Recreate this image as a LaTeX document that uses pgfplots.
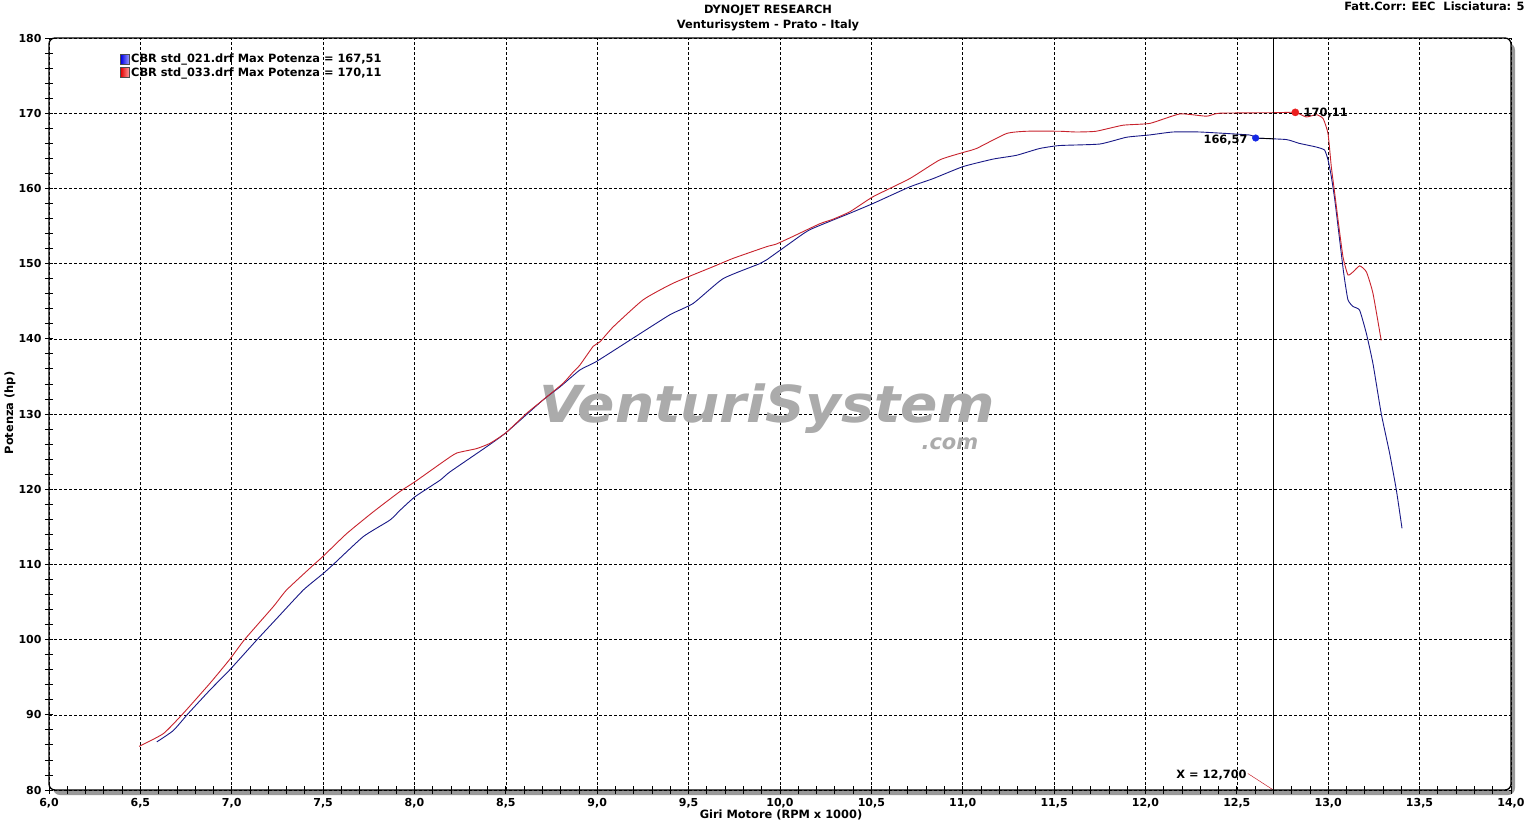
\documentclass[border=0pt]{standalone}
\usepackage{pgfplots}
\pgfplotsset{compat=1.18}
\usepackage{fontspec}
\setmainfont{DejaVu Sans}
\definecolor{redc}{RGB}{200,35,45}
\definecolor{bluec}{RGB}{25,25,135}
\definecolor{reddot}{RGB}{235,30,30}
\definecolor{bluedot}{RGB}{20,40,230}
\newcommand{\lab}{\bfseries\fontsize{11}{12}\selectfont}
\newcommand{\txt}{\bfseries\fontsize{11.4}{14}\selectfont}
\begin{document}
\begin{tikzpicture}[x=1pt,y=1pt]
\useasboundingbox (-49,-33) rectangle (1490,790);
\fill[black!40, rounded corners=7pt] (4,-5) rectangle (1466,747);
\begin{axis}[at={(0,0)}, anchor=south west, scale only axis,
  width=1462pt, height=752pt,
  xmin=6, xmax=14, ymin=80, ymax=180,
  xtick distance=0.5, ytick distance=10,
  minor x tick num=4, minor y tick num=4,
  grid=major,
  major grid style={black, line width=0.6pt, dash pattern=on 3pt off 2pt},
  axis line style={draw=none},
  axis background/.style={fill=white},
  tick pos=left, tick align=center,
  major tick length=8pt, minor tick length=8pt,
  tick style={black, line width=0.8pt},
  /pgf/number format/assume math mode=true,
  xticklabel style={/pgf/number format/.cd, fixed, fixed zerofill, precision=1, use comma, /tikz/.cd, font=\lab, yshift=-1pt},
  yticklabel style={/pgf/number format/.cd, fixed, precision=0, /tikz/.cd, font=\lab},
  legend style={at={(axis description cs:0.0486,0.980)}, anchor=north west,
    draw=none, fill=none, inner sep=0pt, font=\txt, row sep=1pt,
    nodes={inner sep=1pt}},
  legend cell align=left,
]
\node[font=\bfseries\itshape\fontsize{51}{51}\selectfont, text=black!33, xscale=1.08, inner sep=0pt, text depth=0pt] at (axis cs:9.93,131.4) {VenturiSystem};
\node[font=\bfseries\itshape\fontsize{21}{21}\selectfont, text=black!33, inner sep=0pt] at (axis cs:10.93,126.0) {.com};

\addplot[color=bluec, line width=0.9pt, smooth, tension=0.3,
  legend image code/.code={\shade[left color=blue!90!black, right color=blue!35, draw=black!70] (0pt,-5pt) rectangle (9pt,5pt);}]
coordinates {
(6.59,86.4) (6.68,87.9) (6.763,90.2) (6.881,93.3) (6.99,96.0) (7.137,99.95)
(7.246,102.8) (7.392,106.6) (7.501,108.8) (7.556,110.0) (7.72,113.7) (7.866,115.9)
(7.921,117.2) (8.003,119.0) (8.14,121.2) (8.194,122.3) (8.395,125.65) (8.50,127.5)
(8.705,131.9) (8.796,133.6) (8.905,135.85) (8.997,137.0) (9.197,140.1) (9.398,143.2)
(9.525,144.7) (9.689,148.0) (9.89,150.0) (9.927,150.5) (10.054,152.7) (10.163,154.5)
(10.383,156.7) (10.51,158.0) (10.71,160.2) (10.838,161.3) (11.002,162.9) (11.167,163.9)
(11.294,164.4) (11.42,165.3) (11.53,165.7) (11.75,165.9) (11.896,166.8) (12.02,167.1)
(12.15,167.5) (12.297,167.5) (12.57,167.1) (12.603,166.7) (12.77,166.5) (12.84,166.0)
(12.935,165.5) (12.98,165.1) (12.999,163.8) (13.017,161.6) (13.036,158.5) (13.063,153.1)
(13.085,148.7) (13.108,145.2) (13.136,144.3) (13.172,143.8) (13.209,140.7) (13.245,136.7)
(13.29,130.1) (13.336,124.8) (13.373,119.9) (13.404,114.8)
};
\addlegendentry{CBR std\_021.drf Max Potenza = 167,51}

\addplot[color=redc, line width=0.9pt, smooth, tension=0.3,
  legend image code/.code={\shade[left color=red!90!black, right color=red!35, draw=black!70] (0pt,-5pt) rectangle (9pt,5pt);}]
coordinates {
(6.493,85.8) (6.626,87.5) (6.735,90.2) (6.881,94.2) (6.99,97.4) (7.07,100.0)
(7.228,104.4) (7.30,106.6) (7.446,109.9) (7.501,111.1) (7.629,114.1) (7.775,117.0)
(7.921,119.7) (8.003,121.0) (8.157,123.65) (8.23,124.8) (8.34,125.4) (8.413,126.1)
(8.50,127.5) (8.614,130.1) (8.705,131.9) (8.814,134.1) (8.869,135.6) (8.905,136.5)
(8.978,139.0) (9.015,139.6) (9.088,141.6) (9.252,145.2) (9.416,147.4) (9.635,149.6)
(9.744,150.7) (9.927,152.25) (9.98,152.6) (10.07,153.6) (10.218,155.3) (10.29,155.9)
(10.383,156.9) (10.51,158.9) (10.71,161.3) (10.875,163.8) (11.02,164.9) (11.075,165.3)
(11.24,167.3) (11.35,167.6) (11.53,167.6) (11.62,167.5) (11.73,167.6) (11.877,168.4)
(12.025,168.65) (12.188,169.9) (12.334,169.6) (12.406,170.0) (12.716,170.07) (12.82,170.11)
(12.88,169.5) (12.935,169.8) (12.972,169.3) (12.999,167.3) (13.017,162.9) (13.036,159.3)
(13.054,155.8) (13.081,150.9) (13.108,148.5) (13.136,148.9) (13.172,149.7) (13.209,148.9)
(13.245,146.05) (13.29,139.8)
};
\addlegendentry{CBR std\_033.drf Max Potenza = 170,11}

\draw[black, line width=0.8pt] (axis cs:12.7,80) -- (axis cs:12.7,180);
\draw[black, line width=0.8pt] (axis cs:12.603,166.7) -- (axis cs:12.7,166.6);
\addplot[only marks, mark=*, mark size=3.3pt, color=bluedot, forget plot] coordinates {(12.603,166.7)};
\addplot[only marks, mark=*, mark size=3.6pt, color=reddot, forget plot] coordinates {(12.82,170.11)};
\node[anchor=east, font=\txt, inner sep=0pt] at (axis cs:12.56,166.4) {166,57};
\node[anchor=west, font=\txt, inner sep=0pt] at (axis cs:12.865,170.0) {170,11};
\draw[redc, line width=0.5pt] (axis cs:12.56,82.2) -- (axis cs:12.7,80);
\node[anchor=east, font=\txt, inner sep=0pt] at (axis cs:12.555,82.0) {X = 12,700};
\end{axis}
\draw[black, line width=1.3pt, rounded corners=6pt] (0,0) rectangle (1462,752);
\node[font=\txt] at (719,780) {DYNOJET RESEARCH};
\node[font=\txt] at (719,765) {Venturisystem - Prato - Italy};
\node[font=\txt, anchor=east] at (1479,783.5) {Fatt.Corr: EEC\ \ Lisciatura: 5};
\node[font=\txt] at (732,-25) {Giri Motore (RPM x 1000)};
\node[font=\txt, rotate=90] at (-39,377) {Potenza (hp)};
\end{tikzpicture}
\end{document}
